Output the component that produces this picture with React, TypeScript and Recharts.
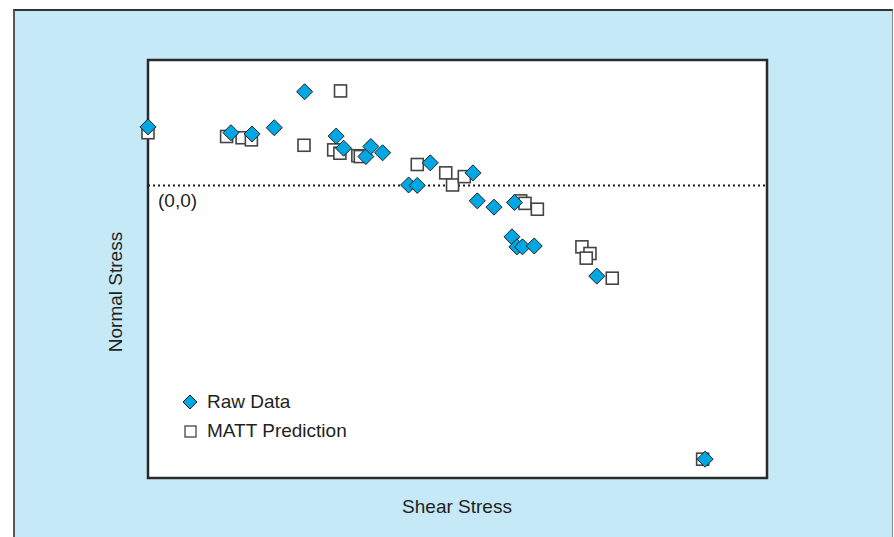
import * as React from 'react';
import {
  ScatterChart,
  Scatter,
  XAxis,
  YAxis,
  ReferenceArea,
  ReferenceLine,
} from 'recharts';

// values (x: 0..100 across the plot, y: 0 at the dotted line)
const rawX = [0, 13.4, 16.8, 20.4, 25.3, 30.4, 31.6, 35.2, 36.0, 37.9, 42.1, 43.5, 45.6, 52.5, 53.2, 55.9, 59.2, 58.8, 59.6, 60.5, 62.4, 72.5, 90.0];
const rawY = [14.0, 12.6, 12.3, 13.8, 22.4, 11.8, 8.9, 6.9, 9.3, 7.8, 0.1, 0.0, 5.4, 3.0, -3.7, -5.2, -4.1, -12.3, -14.7, -14.7, -14.5, -21.7, -65.5];

const mattX = [0, 12.7, 15.2, 16.7, 25.2, 30.0, 31.0, 31.1, 33.9, 34.3, 43.5, 48.1, 49.2, 51.1, 60.2, 60.9, 62.9, 70.1, 71.4, 70.8, 75.0, 89.6];
const mattY = [12.6, 11.7, 11.4, 10.9, 9.6, 8.5, 7.7, 22.6, 7.1, 6.9, 5.0, 3.0, 0.1, 2.1, -3.7, -4.3, -5.7, -14.7, -16.3, -17.4, -22.2, -65.5];

const rawData = rawX.map((x, i) => ({ x, y: rawY[i] }));
const mattData = mattX.map((x, i) => ({ x, y: mattY[i] }));

const BLUE = '#00a7e3';
const INK = '#231f20';
const FONT = '"Liberation Sans", Arial, Helvetica, sans-serif';

const Diamond = (props: any) => {
  const { cx, cy } = props;
  const r = 8;
  return (
    <polygon
      points={`${cx},${cy - r} ${cx + r},${cy} ${cx},${cy + r} ${cx - r},${cy}`}
      fill={BLUE}
      stroke="#1e1e1e"
      strokeWidth={1}
    />
  );
};

const Square = (props: any) => {
  const { cx, cy } = props;
  const s = 12;
  return <rect x={cx - s / 2} y={cy - s / 2} width={s} height={s} fill="#fff" stroke="#444" strokeWidth={1.6} />;
};

export default function App() {
  return (
    <div style={{ position: 'absolute', left: 0, top: 0, width: 894, height: 537, background: '#fff', fontFamily: FONT }}>
      <div
        style={{
          position: 'absolute',
          left: 13,
          top: 9,
          width: 880,
          height: 528,
          boxSizing: 'border-box',
          background: '#c6e9f8',
          borderLeft: '2px solid #555',
          borderTop: '2px solid #333',
          borderRight: '1px solid #888',
        }}
      />
      <div style={{ position: 'absolute', left: 0, top: 0 }}>
        <ScatterChart width={894} height={537} margin={{ top: 60, right: 127, bottom: 59, left: 148 }}>
          <XAxis type="number" dataKey="x" domain={[0, 100]} hide />
          <YAxis type="number" dataKey="y" domain={[-70, 30]} hide />
          <ReferenceArea x1={0} x2={100} y1={-70} y2={30} fill="#fff" fillOpacity={1} stroke="#2a2a2a" strokeWidth={2.5} />
          <ReferenceLine y={0} stroke="#1a1a1a" strokeWidth={2} strokeDasharray="2 3" />
          <Scatter name="MATT Prediction" data={mattData} shape={Square} isAnimationActive={false} />
          <Scatter name="Raw Data" data={rawData} shape={Diamond} isAnimationActive={false} />
        </ScatterChart>
      </div>
      <div style={{ position: 'absolute', left: 158, top: 190, fontSize: 19, color: INK }}>(0,0)</div>
      <div
        style={{
          position: 'absolute',
          left: 116,
          top: 292,
          transform: 'translate(-50%, -50%) rotate(-90deg)',
          fontSize: 19,
          color: INK,
          whiteSpace: 'nowrap',
        }}
      >
        Normal Stress
      </div>
      <div
        style={{
          position: 'absolute',
          left: 457,
          top: 507,
          transform: 'translate(-50%, -50%)',
          fontSize: 19,
          color: INK,
          whiteSpace: 'nowrap',
        }}
      >
        Shear Stress
      </div>
      <div style={{ position: 'absolute', left: 181, top: 387, fontSize: 19, color: INK, lineHeight: '29px' }}>
        <div style={{ display: 'flex', alignItems: 'center' }}>
          <svg width={18} height={18} style={{ marginRight: 8 }}>
            <polygon points="9,2 16,9 9,16 2,9" fill={BLUE} stroke="#1e1e1e" strokeWidth={1} />
          </svg>
          Raw Data
        </div>
        <div style={{ display: 'flex', alignItems: 'center' }}>
          <svg width={18} height={18} style={{ marginRight: 8 }}>
            <rect x={4} y={4} width={11} height={11} fill="#fff" stroke="#444" strokeWidth={1.3} />
          </svg>
          MATT Prediction
        </div>
      </div>
    </div>
  );
}
